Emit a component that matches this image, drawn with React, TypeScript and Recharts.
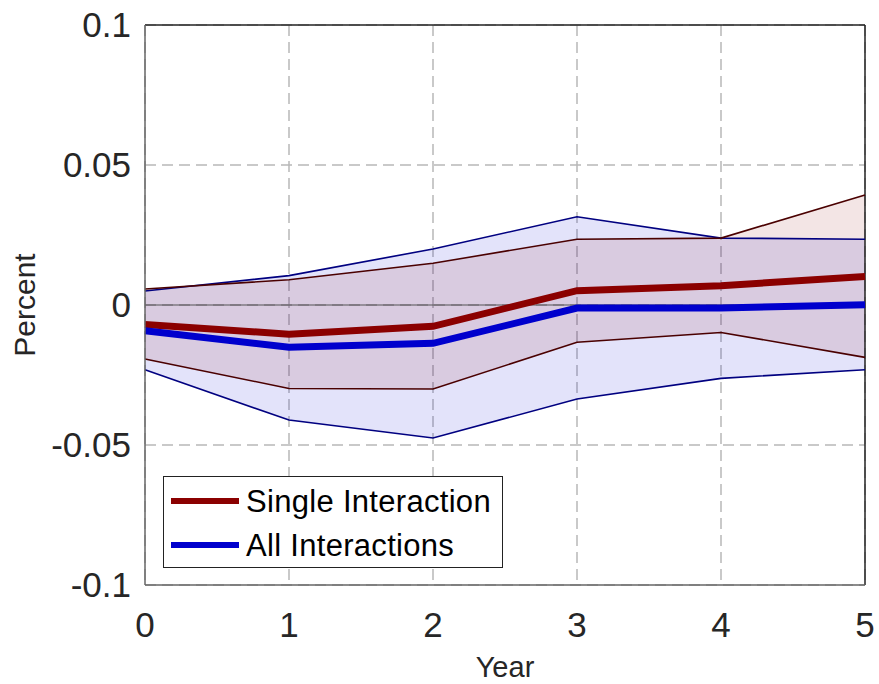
import {
  ComposedChart, Area, Line, XAxis, YAxis, CartesianGrid, ReferenceLine,
} from "recharts"

const YEARS = [0, 1, 2, 3, 4, 5]

const SINGLE_MID = [-0.007, -0.0104, -0.0076, 0.0051, 0.0069, 0.0102]
const SINGLE_HI = [0.0057, 0.009, 0.0149, 0.0235, 0.0239, 0.0393]
const SINGLE_LO = [-0.0193, -0.0298, -0.03, -0.0133, -0.0098, -0.0187]

const ALL_MID = [-0.0092, -0.0151, -0.0137, -0.0011, -0.0011, 0.0001]
const ALL_HI = [0.005, 0.0105, 0.02, 0.0315, 0.0239, 0.0235]
const ALL_LO = [-0.0231, -0.0411, -0.0475, -0.0336, -0.0262, -0.0231]

const Y_TICKS = [-0.1, -0.05, 0, 0.05, 0.1]

const RED = "#8b0000"
const BLUE = "#0000cd"
const FONT = "'Liberation Sans', Arial, Helvetica, sans-serif"
const TEXT = "#262626"

const data = YEARS.map((year, i) => ({
  year,
  singleMid: SINGLE_MID[i],
  singleHi: SINGLE_HI[i],
  singleLo: SINGLE_LO[i],
  singleBand: [SINGLE_LO[i], SINGLE_HI[i]],
  allMid: ALL_MID[i],
  allHi: ALL_HI[i],
  allLo: ALL_LO[i],
  allBand: [ALL_LO[i], ALL_HI[i]],
}))

function LegendBox() {
  const row = (color: string, label: string) => (
    <div style={{ display: "flex", alignItems: "center", height: 44 }}>
      <div style={{ width: 68, height: 6, background: color, marginRight: 7 }} />
      <span style={{ fontSize: 31, color: "#000", letterSpacing: 0.3 }}>{label}</span>
    </div>
  )
  return (
    <div
      style={{
        position: "absolute", left: 163, top: 476, width: 340, height: 92,
        boxSizing: "border-box", border: "1px solid #222", background: "#fff",
        padding: "2px 0 0 7px", fontFamily: FONT, lineHeight: 1,
      }}
    >
      {row(RED, "Single Interaction")}
      {row(BLUE, "All Interactions")}
    </div>
  )
}

export default function App() {
  return (
    <div style={{ position: "absolute", left: 0, top: 0, width: 879, height: 684, background: "#fff", fontFamily: FONT }}>
      <ComposedChart
        width={879}
        height={684}
        data={data}
        margin={{ top: 25, right: 14, left: 0, bottom: 7 }}
      >
        <CartesianGrid stroke="#b8b8b8" strokeDasharray="11 6" strokeWidth={1.5} />
        <XAxis
          dataKey="year"
          type="number"
          domain={[0, 5]}
          ticks={YEARS}
          height={92}
          tickLine={false}
          tickSize={0}
          tickMargin={27}
          stroke="#666"
          strokeWidth={1.5}
          tick={{ fontSize: 35, fill: TEXT, fontFamily: FONT }}
          label={{ value: "Year", position: "insideBottom", offset: 0, fontSize: 29, fill: TEXT, fontFamily: FONT }}
        />
        <YAxis
          type="number"
          domain={[-0.1, 0.1]}
          ticks={Y_TICKS}
          width={145}
          tickLine={false}
          tickSize={0}
          tickMargin={14}
          stroke="#666"
          strokeWidth={1.5}
          tickFormatter={(v) => String(v)}
          tick={{ fontSize: 35, fill: TEXT, fontFamily: FONT }}
          label={{
            content: () => (
              <text
                x={35}
                y={305}
                transform="rotate(-90, 35, 305)"
                textAnchor="middle"
                fontSize={30}
                fill={TEXT}
                fontFamily={FONT}
              >
                Percent
              </text>
            ),
          }}
        />
        <ReferenceLine y={0} stroke="#555" strokeWidth={1.2} />
        <ReferenceLine y={0.1} stroke="#222" strokeWidth={1.5} />
        <ReferenceLine x={5} stroke="#222" strokeWidth={1.5} />

        <Area type="linear" dataKey="allBand" stroke="none" fill={BLUE} fillOpacity={0.11} isAnimationActive={false} />
        <Area type="linear" dataKey="singleBand" stroke="none" fill={RED} fillOpacity={0.1} isAnimationActive={false} />

        <Line type="linear" dataKey="allHi" stroke="#000080" strokeWidth={1.6} dot={false} isAnimationActive={false} />
        <Line type="linear" dataKey="allLo" stroke="#000080" strokeWidth={1.6} dot={false} isAnimationActive={false} />
        <Line type="linear" dataKey="singleHi" stroke="#4a0000" strokeWidth={1.6} dot={false} isAnimationActive={false} />
        <Line type="linear" dataKey="singleLo" stroke="#4a0000" strokeWidth={1.6} dot={false} isAnimationActive={false} />

        <Line type="linear" dataKey="singleMid" stroke={RED} strokeWidth={7} dot={false} isAnimationActive={false} />
        <Line type="linear" dataKey="allMid" stroke={BLUE} strokeWidth={7} dot={false} isAnimationActive={false} />
      </ComposedChart>
      <LegendBox />
    </div>
  )
}
